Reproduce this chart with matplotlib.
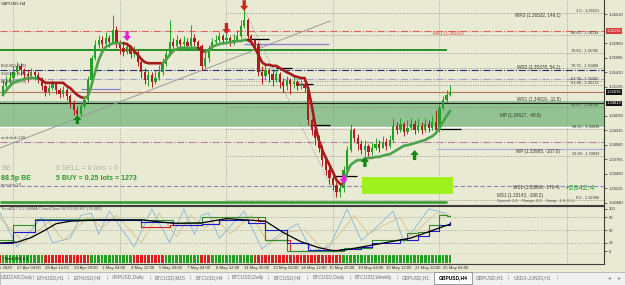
import numpy as np
import matplotlib
matplotlib.use("Agg")
import matplotlib.pyplot as plt
from matplotlib.patches import Rectangle
from matplotlib.transforms import blended_transform_factory as blend

plt.rcParams['font.family'] = ['Liberation Sans', 'DejaVu Sans']

## GBPUSD H4 bars, bar 0 = 27 Apr 04:00 (open of each bar = previous close)
first_bar = -4
first_open = 1.3500
closes = [1.3515, 1.3522, 1.3530, 1.3541,
          1.3553, 1.3545, 1.3538, 1.3534, 1.3541, 1.3536, 1.3530, 1.3515, 1.3504, 1.3511,
          1.3519, 1.3507, 1.3500, 1.3507, 1.3496, 1.3481, 1.3470, 1.3462, 1.3477, 1.3489,
          1.3526, 1.3568, 1.3592, 1.3602, 1.3594, 1.3606, 1.3598, 1.3621, 1.3594, 1.3587,
          1.3579, 1.3589, 1.3575, 1.3579, 1.3560, 1.3541, 1.3526, 1.3536, 1.3522, 1.3530,
          1.3541, 1.3557, 1.3575, 1.3598, 1.3591, 1.3602, 1.3594, 1.3598, 1.3591, 1.3606,
          1.3598, 1.3591, 1.3553, 1.3568, 1.3587, 1.3598, 1.3602, 1.3609, 1.3602, 1.3606,
          1.3598, 1.3602, 1.3609, 1.3628, 1.3640, 1.3609, 1.3602, 1.3594, 1.3541, 1.3534,
          1.3545, 1.3538, 1.3526, 1.3538, 1.3522, 1.3515, 1.3526, 1.3519, 1.3522, 1.3515,
          1.3519, 1.3511, 1.3451, 1.3432, 1.3417, 1.3398, 1.3375, 1.3356, 1.3341, 1.3328,
          1.3315, 1.3322, 1.3356, 1.3394, 1.3432, 1.3417, 1.3405, 1.3394, 1.3402, 1.3390,
          1.3398, 1.3405, 1.3398, 1.3409, 1.3402, 1.3413, 1.3439, 1.3432, 1.3443, 1.3428,
          1.3436, 1.3443, 1.3432, 1.3439, 1.3432, 1.3443, 1.3436, 1.3447, 1.3432, 1.3473,
          1.3489, 1.3498, 1.3504]
highs = [1.3526, 1.3534, 1.3541, 1.3553,
         1.3560, 1.3558, 1.3549, 1.3545, 1.3549, 1.3545, 1.3541, 1.3532, 1.3519, 1.3519,
         1.3526, 1.3522, 1.3511, 1.3515, 1.3511, 1.3500, 1.3489, 1.3477, 1.3485, 1.3496,
         1.3534, 1.3574, 1.3602, 1.3611, 1.3609, 1.3617, 1.3611, 1.3649, 1.3628, 1.3602,
         1.3594, 1.3598, 1.3592, 1.3591, 1.3583, 1.3564, 1.3549, 1.3545, 1.3541, 1.3545,
         1.3555, 1.3568, 1.3583, 1.3640, 1.3606, 1.3611, 1.3606, 1.3609, 1.3606, 1.3630,
         1.3613, 1.3602, 1.3594, 1.3579, 1.3592, 1.3606, 1.3611, 1.3617, 1.3613, 1.3615,
         1.3609, 1.3613, 1.3621, 1.3640, 1.3666, 1.3644, 1.3613, 1.3606, 1.3598, 1.3553,
         1.3555, 1.3549, 1.3545, 1.3545, 1.3541, 1.3530, 1.3534, 1.3530, 1.3534, 1.3526,
         1.3526, 1.3522, 1.3515, 1.3454, 1.3439, 1.3422, 1.3403, 1.3383, 1.3364, 1.3349,
         1.3334, 1.3330, 1.3364, 1.3402, 1.3443, 1.3436, 1.3424, 1.3413, 1.3413, 1.3405,
         1.3409, 1.3417, 1.3413, 1.3420, 1.3417, 1.3422, 1.3454, 1.3447, 1.3454, 1.3447,
         1.3451, 1.3454, 1.3451, 1.3454, 1.3447, 1.3454, 1.3451, 1.3458, 1.3470, 1.3481,
         1.3496, 1.3507, 1.3517]
lows = [1.3496, 1.3507, 1.3517, 1.3526,
        1.3538, 1.3536, 1.3526, 1.3522, 1.3528, 1.3526, 1.3521, 1.3507, 1.3496, 1.3498,
        1.3507, 1.3500, 1.3492, 1.3494, 1.3489, 1.3473, 1.3460, 1.3451, 1.3458, 1.3473,
        1.3485, 1.3522, 1.3564, 1.3587, 1.3587, 1.3591, 1.3589, 1.3594, 1.3587, 1.3575,
        1.3572, 1.3575, 1.3568, 1.3570, 1.3553, 1.3530, 1.3519, 1.3515, 1.3513, 1.3519,
        1.3526, 1.3536, 1.3553, 1.3572, 1.3583, 1.3587, 1.3585, 1.3589, 1.3583, 1.3587,
        1.3591, 1.3583, 1.3545, 1.3549, 1.3560, 1.3583, 1.3592, 1.3598, 1.3594, 1.3596,
        1.3591, 1.3592, 1.3598, 1.3606, 1.3625, 1.3602, 1.3592, 1.3587, 1.3534, 1.3519,
        1.3526, 1.3522, 1.3515, 1.3522, 1.3511, 1.3504, 1.3507, 1.3500, 1.3511, 1.3507,
        1.3509, 1.3504, 1.3441, 1.3422, 1.3403, 1.3390, 1.3364, 1.3347, 1.3330, 1.3318,
        1.3305, 1.3305, 1.3315, 1.3352, 1.3390, 1.3409, 1.3394, 1.3386, 1.3383, 1.3383,
        1.3385, 1.3394, 1.3390, 1.3398, 1.3394, 1.3398, 1.3409, 1.3424, 1.3428, 1.3420,
        1.3424, 1.3432, 1.3424, 1.3428, 1.3424, 1.3428, 1.3428, 1.3432, 1.3424, 1.3428,
        1.3470, 1.3485, 1.3496]

# trend line (thick, coloured by direction)
ma_line = [1.3498, 1.3507, 1.3515, 1.3521,
           1.3524, 1.3526, 1.3528, 1.3530, 1.3530, 1.3530, 1.3530, 1.3526, 1.3521, 1.3521,
           1.3521, 1.3521, 1.3521, 1.3521, 1.3515, 1.3511, 1.3504, 1.3498, 1.3494, 1.3492,
           1.3496, 1.3517, 1.3541, 1.3564, 1.3579, 1.3589, 1.3592, 1.3596, 1.3596, 1.3596,
           1.3596, 1.3594, 1.3589, 1.3581, 1.3574, 1.3566, 1.3560, 1.3558, 1.3558, 1.3558,
           1.3558, 1.3558, 1.3564, 1.3574, 1.3581, 1.3585, 1.3587, 1.3587, 1.3587, 1.3587,
           1.3587, 1.3587, 1.3583, 1.3579, 1.3583, 1.3589, 1.3592, 1.3594, 1.3596, 1.3596,
           1.3598, 1.3598, 1.3600, 1.3600, 1.3602, 1.3602, 1.3598, 1.3587, 1.3574, 1.3560,
           1.3555, 1.3555, 1.3553, 1.3553, 1.3549, 1.3545, 1.3541, 1.3538, 1.3534, 1.3532,
           1.3530, 1.3530, 1.3511, 1.3479, 1.3441, 1.3413, 1.3394, 1.3379, 1.3366, 1.3352,
           1.3337, 1.3330, 1.3328, 1.3352, 1.3366, 1.3371, 1.3375, 1.3375, 1.3377, 1.3379,
           1.3379, 1.3381, 1.3381, 1.3383, 1.3385, 1.3386, 1.3390, 1.3394, 1.3398, 1.3402,
           1.3403, 1.3405, 1.3407, 1.3409, 1.3411, 1.3413, 1.3417, 1.3420, 1.3426, 1.3436,
           1.3447, 1.3458, 1.3468]
ma_turns = [-4, 7, 20, 31, 42, 52, 54, 66, 93]
ma_dirs = ['up', 'down', 'up', 'down', 'up', 'down', 'up', 'down', 'up']

# signal arrows: bar, tail price, tip price, kind
arrows = [(17, 1.3443, 1.3460, 'buy'), (98, 1.3362, 1.3381, 'buy'), (112, 1.3375, 1.3394, 'buy'),
          (59, 1.3634, 1.3613, 'sell'), (64, 1.3677, 1.3657, 'sell'),
          (31, 1.3619, 1.3600, 'flip'), (92, 1.3347, 1.3330, 'flip')]

## levels
price_ticks = [1.32940, 1.33215, 1.33490, 1.33765, 1.34040, 1.34315, 1.34590,
               1.35135, 1.35410, 1.35685, 1.35960, 1.36510]
fib_low, fib_high = 1.32990, 1.36521
fib_levels = [0.0, 23.6, 38.2, 50.0, 61.8, 64.0, 70.7, 78.6, 88.6, 100.0]
fib_start = 59
mr1 = 1.36192
bid = 1.35036
hline_obj = 1.34819
zone_lo, zone_hi = 1.34375, 1.34860
green_level = 1.3583
navy_level = 1.3545
lilac_level = 1.3528
pink_level = 1.34091
wp_level = 1.33959
ws_level = 1.33260
bottom_level = 1.32948
box_bars = (97.2, 122.8)
box_prices = (1.33109, 1.33430)
# trendlines: (bar0, price0, bar1, price1)
trend_gray = (-4.8, 1.33978, 88.2, 1.36378)
trend_fib = (63.7, 1.36624, 90.1, 1.33033)
# short segments: bar0, bar1, price, colour
segments = [(64, 88, 1.3594, '#8c7fd6'), (18, 29, 1.3509, '#8c7fd6'),
            (65, 71, 1.3604, 'k'), (73, 77.5, 1.3549, 'k'), (79, 83.4, 1.3519, 'k'),
            (82.5, 88.2, 1.3441, 'k'), (89, 95.8, 1.3345, 'k'), (119, 125, 1.3434, 'k')]

pivot_texts = ['WR3 (1.36532, 149.1)', 'WR2 (1.35378, 54.1)', 'WR1 (1.34919, -11.9)',
               'MP (1.34627, -48.8)', 'WP (1.33965, -107.0)', 'WS1 (1.33066, -176.4)',
               'MS1 (1.33143, -108.2)']

## indicator window (0..100)
black_bars = [-5, 0, 4, 8, 11, 15, 23, 35, 44, 52, 59, 70, 75, 80, 85, 89, 92, 100, 111, 120, 122]
black_vals = [19, 21, 32, 50, 65, 71, 74, 74, 66, 67, 77, 71, 44, 22, 8, 1, 2, 14, 31, 58, 64]
blue_bars = [-5, -1, 5, 35, 44, 52, 57, 65, 70, 76, 82, 87, 91, 97, 100, 108, 110, 113, 116, 119, 122]
blue_vals = [19, 45, 74, 69, 62, 64, 74, 67, 50, 19, 2, 3, 5, 10, 19, 29, 26, 36, 48, 62, 69]
green_bars = [-5, -1, 5, 36, 44, 52, 60, 70, 76, 92, 100, 110, 113, 116, 119, 121, 122]
green_vals = [26, 62, 76, 74, 67, 81, 80, 26, 0, 7, 26, 43, 45, 62, 86, 83, 83]
red_bars = [33, 35, 43, 52, 57, 59, 68, 70, 77, 91]
red_vals = [74, 57, 62, 64, 74, 81, 71, 26, 0, 0]
k_bars = [-5, 0, 7, 10, 15, 18, 21, 23, 26, 33, 38, 43, 47, 50, 52, 54, 57, 64, 69, 74, 79,
          83, 88, 93, 97, 101, 106, 109, 116, 121]
k_vals = [95, 10, 80, 20, 30, 85, 90, 40, 95, 10, 100, 20, 100, 40, 85, 90, 30, 95, 5, 40, 65,
          0, 10, 100, 25, 55, 95, 20, 100, 90]
d_bars = [-5, 2, 9, 13, 20, 24, 28, 35, 40, 45, 49, 53, 56, 60, 66, 71, 76, 81, 86, 90, 95,
          99, 103, 108, 111, 118, 122]
d_vals = [80, 20, 70, 25, 80, 55, 85, 20, 90, 35, 85, 55, 80, 40, 85, 15, 45, 50, 5, 30, 85,
          40, 60, 80, 35, 90, 85]
band_starts = [-5, -4, 8, 21, 33, 42, 52, 55, 67, 92, 123]
band_states = ['dn', 'up', 'dn', 'up', 'dn', 'up', 'dn', 'up', 'dn', 'up']

## time axis
time_labels = ['r 2020', '27 Apr 04:00', '28 Apr 12:00', '29 Apr 20:00', '1 May 04:00',
               '4 May 12:00', '5 May 20:00', '7 May 04:00', '8 May 12:00', '11 May 20:00',
               '13 May 04:00', '14 May 12:00', '15 May 20:00', '19 May 04:00', '20 May 12:00',
               '21 May 20:00', '25 May 04:00']
time_label_bars = [-4.7, 0, 8, 16, 24, 32, 40, 48, 56, 64, 72, 80, 88, 96, 104, 112, 120]
grid_bars = [-1, 29, 59, 89, 119, 155]

tab_names = ['USDZAR,Daily', 'ETHUSD,H1', 'ETHUSD,H4', 'XRPUSD,Daily', 'BTCUSD,M15',
             'BTCUSD,H4', 'BTCUSD,Daily', 'BTCUSD,H4', 'BTCUSD,Daily', 'BTCUSD,Weekly',
             'GBPUSD,H1', 'GBPUSD,H4', 'GBPUSD,H1', 'USDX-JUN20,H1']
tab_edges = [0, 33, 68, 107, 150, 190, 228, 268, 307, 350, 397, 434, 472, 508, 557]
active_tab = 11

## colours
BG = '#e9ead3'
UP, DN = '#22a022', '#b01c1c'
GRID = '#8c8c8c'

W, H = 625, 285
fig = plt.figure(figsize=(W / 100, H / 100), dpi=100, facecolor=BG)


def px_axes(x0, y0, x1, y1):
    a = fig.add_axes([x0 / W, 1 - y1 / H, (x1 - x0) / W, (y1 - y0) / H])
    a.set_facecolor(BG)
    return a


ax = px_axes(0, 0, 604, 205)
ax2 = px_axes(0, 206, 604, 254)
ax3 = px_axes(0, 254, 604, 264)

xlim = ((0 - 17) / 3.55, (604 - 17) / 3.55)
for a in (ax, ax2, ax3):
    a.set_xlim(*xlim)
    a.set_xticks([])
    for s in ('left', 'top'):
        a.spines[s].set_visible(False)
    for s in ('right', 'bottom'):
        a.spines[s].set_color('#3c3c3c')
        a.spines[s].set_linewidth(0.8)
    for g in grid_bars:
        a.axvline(g, color=GRID, lw=0.5, ls=(0, (1, 1.5)), zorder=0.6)

ax.set_ylim(1.329005, 1.36775)
ax2.set_ylim(-7.1, 107.1)
ax3.set_ylim(0, 1)

# ---------------- main chart ----------------
closes = np.array(closes)
highs = np.array(highs)
lows = np.array(lows)
bars = np.arange(first_bar, first_bar + len(closes))
opens = np.r_[first_open, closes[:-1]]
cols = np.where(closes >= opens, UP, DN)

ax.axhspan(zone_lo, zone_hi, color='#93c393', lw=0, zorder=0.5)
ax.axhline(zone_lo, color='white', lw=1.0, zorder=0.7)
ax.axhline(hline_obj, color='#202020', lw=0.8, zorder=0.7)
ax.axhline(mr1, color='#e06060', lw=0.8, ls='-.', zorder=0.7)
ax.axhline(navy_level, color='#2a2a7a', lw=0.8, ls='-.', zorder=0.7)
ax.axhline(lilac_level, color='#a0a0cc', lw=0.8, ls='-.', zorder=0.7)
ax.axhline(bid, color='#b87460', lw=0.8, zorder=0.7)
ax.axhline(pink_level, color='#b47ea0', lw=0.8, ls='-.', zorder=0.7)
ax.axhline(ws_level, color='#8a86b8', lw=0.8, ls=(0, (4, 2)), zorder=0.7)
ax.hlines(green_level, xlim[0], 121.1, color='#168a16', lw=1.3, zorder=0.8)
ax.hlines(bottom_level, xlim[0], 121.1, color='#2f9a2f', lw=1.8, zorder=0.8)
ax.hlines(wp_level, 118, xlim[1], color='#a8a8d8', lw=0.8, zorder=0.7)

for lvl in fib_levels:
    p = fib_low + (fib_high - fib_low) * lvl / 100
    ax.hlines(p, fib_start, xlim[1], color='#777777', lw=0.5, ls=(0, (1, 1.5)), zorder=0.7)
    name = '1.0' if lvl == 100 else ('0.0' if lvl == 0 else '%.2f' % lvl)
    ax.text(163.9, p, '%s - %.5f' % (name, p), fontsize=2.8, color='#333333',
            ha='right', va='bottom', zorder=6)

ax.add_patch(Rectangle((box_bars[0], box_prices[0]), box_bars[1] - box_bars[0],
                       box_prices[1] - box_prices[0], color='#9ef01e', lw=0, zorder=0.9))

for t, ls in ((trend_gray, '-'), (trend_fib, (0, (1, 1.5)))):
    ax.plot([t[0], t[2]], [t[1], t[3]], color='#9a9a9a', lw=0.7, ls=ls, zorder=1)
for b0, b1, p, c in segments:
    ax.hlines(p, b0, b1, color=c, lw=0.9, zorder=2)

ax.vlines(bars, lows, highs, colors=cols, lw=0.7, zorder=3)
ax.bar(bars, np.maximum(np.abs(closes - opens), 0.00005), bottom=np.minimum(opens, closes),
       width=0.62, color=cols, lw=0, zorder=3)

ma = np.array(ma_line)
edges = ma_turns + [bars[-1] + 1]
for k, d in enumerate(ma_dirs):
    s = max(edges[k] - 1, first_bar) - first_bar
    e = edges[k + 1] - first_bar
    ax.plot(bars[s:e], ma[s:e], color='#4aa24a' if d == 'up' else '#a51a1a',
            lw=1.9, solid_capstyle='round', zorder=4)

arrow_cols = {'buy': '#118811', 'sell': '#d02222', 'flip': '#e020e0'}
for b, p0, p1, kind in arrows:
    ax.annotate('', xy=(b, p1), xytext=(b, p0),
                arrowprops=dict(arrowstyle='simple,head_length=0.6,head_width=1.0,tail_width=0.4',
                                color=arrow_cols[kind], lw=0, shrinkA=0, shrinkB=0,
                                mutation_scale=6), zorder=6)

# price scale
ax.yaxis.tick_right()
ax.set_yticks(price_ticks)
ax.set_yticklabels(['%.5f' % p for p in price_ticks])
ax.tick_params(axis='y', labelsize=3.0, length=2, width=0.5, pad=1.5, colors='#303030')
tr = blend(ax.transAxes, ax.transData)
for p, fc in ((mr1, '#d83a3a'), (bid, '#111111'), (hline_obj, '#111111')):
    ax.text(1.004, p, '%.5f' % p, transform=tr, fontsize=3.0, color='white', ha='left',
            va='center', bbox=dict(fc=fc, ec='none', pad=0.6), clip_on=False, zorder=7)


def at(x, y):
    return x / 604, 1 - y / 205


pivot_pos = [(515, 15), (517, 67), (517, 100), (500, 116), (516, 152), (513, 187), (497, 196)]
for txt, (x, y) in zip(pivot_texts, pivot_pos):
    ax.text(*at(x, y), txt, transform=ax.transAxes, fontsize=3.3, color='#3a3a2a', va='center')
ax.text(*at(433, 33), 'MR1 (%.5f)' % mr1, transform=ax.transAxes, fontsize=3.3,
        color='#e04848', va='center')
ax.text(*at(497, 201), 'Spread: 2.0    Range: 0.0    Swap: -1.8 / 0.3', transform=ax.transAxes,
        fontsize=2.9, color='#555555', va='center')
ax.text(*at(580, 188), '+2842.4', transform=ax.transAxes, fontsize=6, color='#22a022',
        ha='center', va='center')
ax.text(*at(1, 169), 'BE', transform=ax.transAxes, fontsize=5, color='#c2c2b0',
        va='center', weight='bold')
ax.text(*at(56, 169), '0 SELL = 0 lots = 0', transform=ax.transAxes, fontsize=5,
        color='#c2c2b0', va='center', weight='bold')
ax.text(*at(1, 178), '88.5p BE', transform=ax.transAxes, fontsize=5, color='#2a962a',
        va='center', weight='bold')
ax.text(*at(56, 178), '5 BUY = 0.25 lots = 1273', transform=ax.transAxes, fontsize=5,
        color='#2a962a', va='center', weight='bold')
ax.text(*at(1, 4), 'GBPUSD,H4', transform=ax.transAxes, fontsize=3.2, color='#202020',
        va='center')
for y, txt in ((66, 'BS(USD) (0.85)'), (74, 'SS(GBP) (0.00)'), (82, 'BS(EUR) (0.25)'),
               (138, 'ss=d=d=d=1.00'), (185, 'ss=s=t=t=1.0')):
    ax.text(*at(1, y), txt, transform=ax.transAxes, fontsize=2.6, color='#404040', va='center')

# ---------------- indicator window ----------------
for v in (20, 50, 80):
    ax2.axhline(v, color=GRID, lw=0.5, ls=(0, (1, 1.5)), zorder=0.6)
ax2.plot(k_bars, k_vals, color='#84b6dc', lw=0.6, zorder=1)
ax2.plot(d_bars, d_vals, color='#d6c08c', lw=0.6, zorder=1)
ax2.step(red_bars, red_vals, where='post', color='#d02020', lw=0.8, zorder=2)
ax2.step(green_bars, green_vals, where='post', color='#2f8f2f', lw=0.8, zorder=3)
ax2.step(blue_bars, blue_vals, where='post', color='#1c1ccc', lw=0.8, zorder=4)
ax2.plot(black_bars, black_vals, color='#000000', lw=0.9, zorder=5)
ax2.yaxis.tick_right()
ax2.set_yticks([0, 20, 50, 80, 100])
ax2.tick_params(axis='y', labelsize=3.0, length=2, width=0.5, pad=1.5, colors='#303030')
ax2.spines['top'].set_visible(True)
ax2.spines['top'].set_color('#3c3c3c')
ax2.text(0.002, 0.93, 'TrendDL7.3.2 UWMA Close/Close 58.500 66.857 (76.082)',
         transform=ax2.transAxes, fontsize=2.8, color='#555555', va='center')

for k, st in enumerate(band_states):
    b = np.arange(band_starts[k], band_starts[k + 1])
    ax3.bar(b, 0.8, bottom=0.1, width=0.72, color='#dc1e1e' if st == 'dn' else '#22a022', lw=0)
ax3.text(0.006, 0.5, 'Trend 4H:1 D:1', transform=ax3.transAxes, fontsize=2.6,
         color='#101010', va='center')
ax3.set_yticks([])

tb = blend(ax3.transData, ax3.transAxes)
for b, lab in zip(time_label_bars, time_labels):
    ax3.text(b, -0.4, lab, transform=tb, fontsize=3.1, color='#303030', va='center',
             ha='left', clip_on=False)

# ---------------- tab bar ----------------
fig.patches.append(Rectangle((0, 0), 1, 13.5 / H, transform=fig.transFigure,
                             fc='#f0f0f0', ec='#b4b4b4', lw=0.6))
for k, name in enumerate(tab_names):
    x0, x1 = tab_edges[k], tab_edges[k + 1]
    if k == active_tab:
        fig.patches.append(Rectangle((x0 / W, 1 / H), (x1 - x0) / W, 12 / H,
                                     transform=fig.transFigure, fc='white', ec='#8c8c8c', lw=0.6))
        fig.text((x0 + x1) / 2 / W, 7 / H, name, fontsize=3.5, color='#000000',
                 ha='center', va='center', weight='bold')
    else:
        fig.text((x0 + x1) / 2 / W, 7 / H, name, fontsize=3.5, color='#707070',
                 ha='center', va='center')
        if k + 1 != active_tab:
            fig.text(x1 / W, 7 / H, '|', fontsize=4, color='#a0a0a0', ha='center', va='center')
fig.text(609 / W, 7 / H, '\u25c2', fontsize=4, color='#909090', ha='center', va='center')
fig.text(619 / W, 7 / H, '\u25b8', fontsize=4, color='#909090', ha='center', va='center')

fig.savefig('out.png', dpi=100, facecolor=BG)
